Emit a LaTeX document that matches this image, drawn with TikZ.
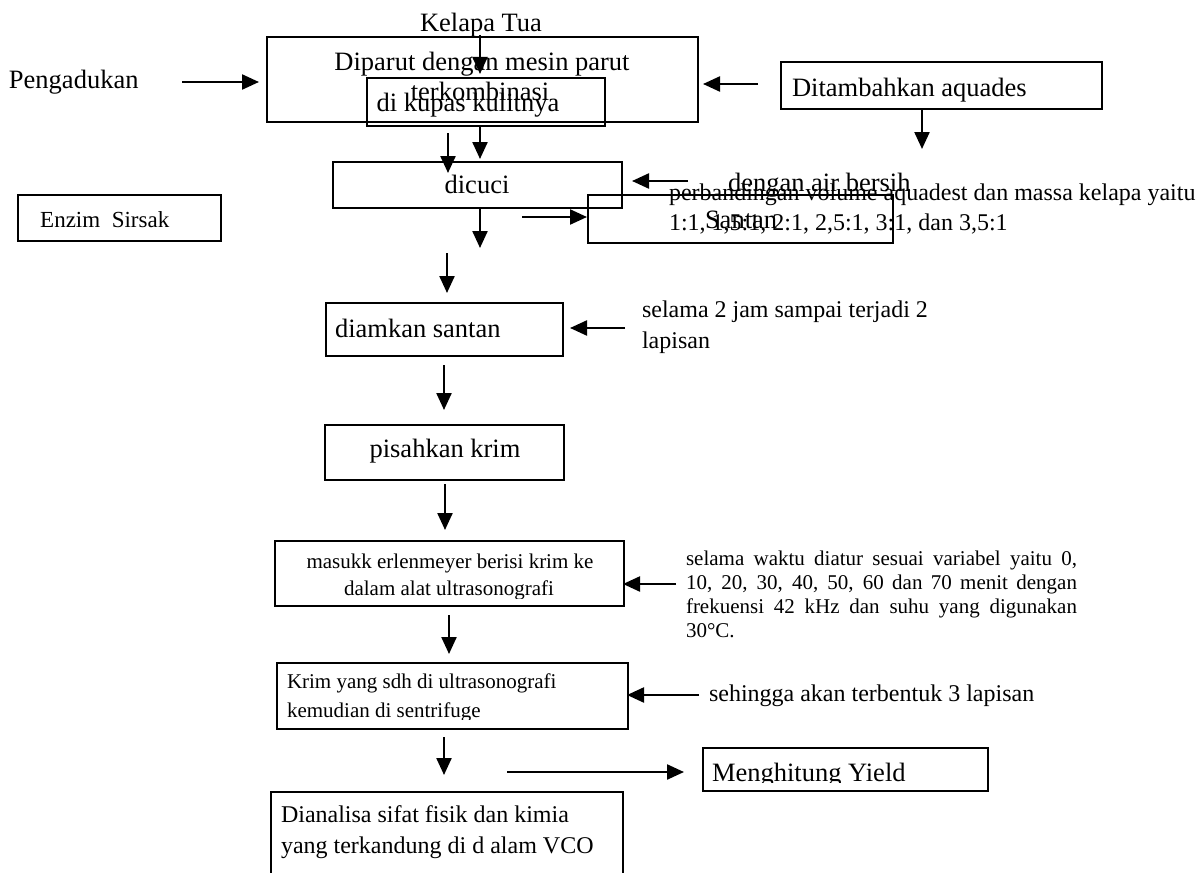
\documentclass[tikz,border=0pt]{standalone}
\usepackage{fontspec}
\setmainfont{Liberation Serif}
\usetikzlibrary{arrows.meta}
\begin{document}
\begin{tikzpicture}[x=1pt,y=-1pt,
  box/.style={draw, line width=2.6pt, inner sep=0pt, outer sep=0pt, anchor=north west},
  thinbox/.style={box, line width=2pt},
  arr/.style={line width=2.3pt, -{Triangle[length=17pt,width=15pt]}},
  big/.style={font=\fontsize{26.5}{30}\selectfont, inner sep=0pt, outer sep=0pt},
  mid/.style={font=\fontsize{24}{28}\selectfont, inner sep=0pt, outer sep=0pt},
  sml/.style={font=\fontsize{21}{24}\selectfont, inner sep=0pt, outer sep=0pt}]
\useasboundingbox (0,0) rectangle (1198,872);
\begin{scope}
\clip (0,0) rectangle (1198,872);
% ---------- boxes ----------
\node[box, minimum width=431pt, minimum height=85pt] (bParut) at (267,37) {};
\node[box, minimum width=238pt, minimum height=48pt] (bKupas) at (367,78) {};
\node[box, minimum width=321pt, minimum height=47pt] (bTambah) at (781,62) {};
\node[box, minimum width=289pt, minimum height=46pt] (bCuci) at (333,162) {};
\node[box, minimum width=305pt, minimum height=48pt] (bSantan) at (588,195) {};
\node[thinbox, minimum width=203pt, minimum height=46pt] (bEnzim) at (18,195) {};
\node[box, minimum width=237pt, minimum height=53pt] (bDiam) at (326,303) {};
\node[box, minimum width=239pt, minimum height=55pt] (bPisah) at (325,425) {};
\node[thinbox, minimum width=349pt, minimum height=65pt] (bMasuk) at (275,541) {};
\node[box, minimum width=351pt, minimum height=66pt] (bKrim) at (277,663) {};
\node[box, minimum width=285pt, minimum height=43pt] (bYield) at (703,748) {};
\node[box, minimum width=352pt, minimum height=110pt] (bAnalisa) at (271,792) {};
% ---------- texts ----------
\node[big, anchor=base] (tKelapa) at (481,32) {Kelapa Tua};
\node[big, anchor=base] (tParut) at (482,71) {Diparut dengan mesin parut};
\node[big, anchor=base] (tKomb) at (480,101) {terkombinasi};
\node[big, anchor=base] (tKupas) at (468,111) {di kupas kulitnya};
\node[big, anchor=base west] (tAduk) at (9,89) {Pengadukan};
\node[big, anchor=base west] (tTambah) at (792,97) {Ditambahkan aquades};
\node[big, anchor=base] (tCuci) at (477,193) {dicuci};
\node[big, anchor=base west] (tAir) at (728,191) {dengan air bersih};
\node[mid, anchor=base west] (tBand1) at (669,200) {perbandingan volume aquadest dan massa kelapa yaitu};
\node[mid, anchor=base west] (tBand2) at (669,230) {1:1, 1,5:1, 2:1, 2,5:1, 3:1, dan 3,5:1};
\node[big, anchor=base west] (tSantan) at (705,228) {Santan};
\node[font=\fontsize{23}{26}\selectfont, inner sep=0pt, anchor=base west] (tEnzim) at (40,227) {Enzim\ \ Sirsak};
\node[big, anchor=base west] (tDiam) at (335,337) {diamkan santan};
\node[mid, anchor=base west] (tJam1) at (642,317) {selama 2 jam sampai terjadi 2};
\node[mid, anchor=base west] (tJam2) at (642,348) {lapisan};
\node[big, anchor=base] (tPisah) at (445,457) {pisahkan krim};
\begin{scope}
\clip (275,541) rectangle (624,598);
\node[sml, anchor=base] (tMasuk1) at (450,568) {masukk erlenmeyer berisi krim ke};
\node[sml, anchor=base] (tMasuk2) at (449,595) {dalam alat ultrasonografi};
\end{scope}
\node[sml, anchor=base west] (tWaktu1) at (686,565) {\makebox[391pt][s]{selama waktu diatur sesuai variabel yaitu 0,}};
\node[sml, anchor=base west] (tWaktu2) at (686,589) {\makebox[391pt][s]{10, 20, 30, 40, 50, 60 dan 70 menit dengan}};
\node[sml, anchor=base west] (tWaktu3) at (686,613) {\makebox[391pt][s]{frekuensi 42 kHz dan suhu yang digunakan}};
\node[sml, anchor=base west] (tWaktu4) at (686,637) {30°C.};
\begin{scope}
\clip (277,663) rectangle (628,719);
\node[sml, anchor=base west] (tKrim1) at (287,688) {Krim yang sdh di ultrasonografi};
\node[sml, anchor=base west] (tKrim2) at (287,717) {kemudian di sentrifuge};
\end{scope}
\node[mid, anchor=base west] (tLapis) at (709,701) {sehingga akan terbentuk 3 lapisan};
\begin{scope}
\clip (703,748) rectangle (988,782.5);
\node[big, anchor=base west] (tYield) at (712,781) {Menghitung Yield};
\end{scope}
\node[mid, anchor=base west] (tAnal1) at (281,822) {Dianalisa sifat fisik dan kimia};
\node[mid, anchor=base west] (tAnal2) at (281,853) {yang terkandung di d alam VCO};
% ---------- arrow end points ----------
\coordinate (k1) at (480,35);   \coordinate (k2) at (480,74);
\coordinate (p1) at (182,82);   \coordinate (p2) at (259,82);
\coordinate (q1) at (758,84);   \coordinate (q2) at (703,84);
\coordinate (t1) at (922,110);  \coordinate (t2) at (922,149);
\coordinate (u1) at (448,133);  \coordinate (u2) at (448,173);
\coordinate (v1) at (480,126);  \coordinate (v2) at (480,159);
\coordinate (w1) at (688,181);  \coordinate (w2) at (632,181);
\coordinate (c1) at (480,208);  \coordinate (c2) at (480,248);
\coordinate (d1) at (447,253);  \coordinate (d2) at (447,293);
\coordinate (s1) at (522,217);  \coordinate (s2) at (587,217);
\coordinate (j1) at (625,328);  \coordinate (j2) at (570,328);
\coordinate (e1) at (444,365);  \coordinate (e2) at (444,410);
\coordinate (f1) at (445,484);  \coordinate (f2) at (445,530);
\coordinate (g1) at (676,584);  \coordinate (g2) at (623,584);
\coordinate (h1) at (449,615);  \coordinate (h2) at (449,654);
\coordinate (i1) at (699,695);  \coordinate (i2) at (627,695);
\coordinate (m1) at (444,737);  \coordinate (m2) at (444,775);
\coordinate (n1) at (507,772);  \coordinate (n2) at (684,772);
% ---------- arrows ----------
\draw[arr] (k1) -- (k2);
\draw[arr] (p1) -- (p2);
\draw[arr] (q1) -- (q2);
\draw[arr] (t1) -- (t2);
\draw[arr] (u1) -- (u2);
\draw[arr] (v1) -- (v2);
\draw[arr] (w1) -- (w2);
\draw[arr] (c1) -- (c2);
\draw[arr] (d1) -- (d2);
\draw[arr] (s1) -- (s2);
\draw[arr] (j1) -- (j2);
\draw[arr] (e1) -- (e2);
\draw[arr] (f1) -- (f2);
\draw[arr] (g1) -- (g2);
\draw[arr] (h1) -- (h2);
\draw[arr] (i1) -- (i2);
\draw[arr] (m1) -- (m2);
\draw[arr] (n1) -- (n2);
\end{scope}
\end{tikzpicture}
\end{document}
